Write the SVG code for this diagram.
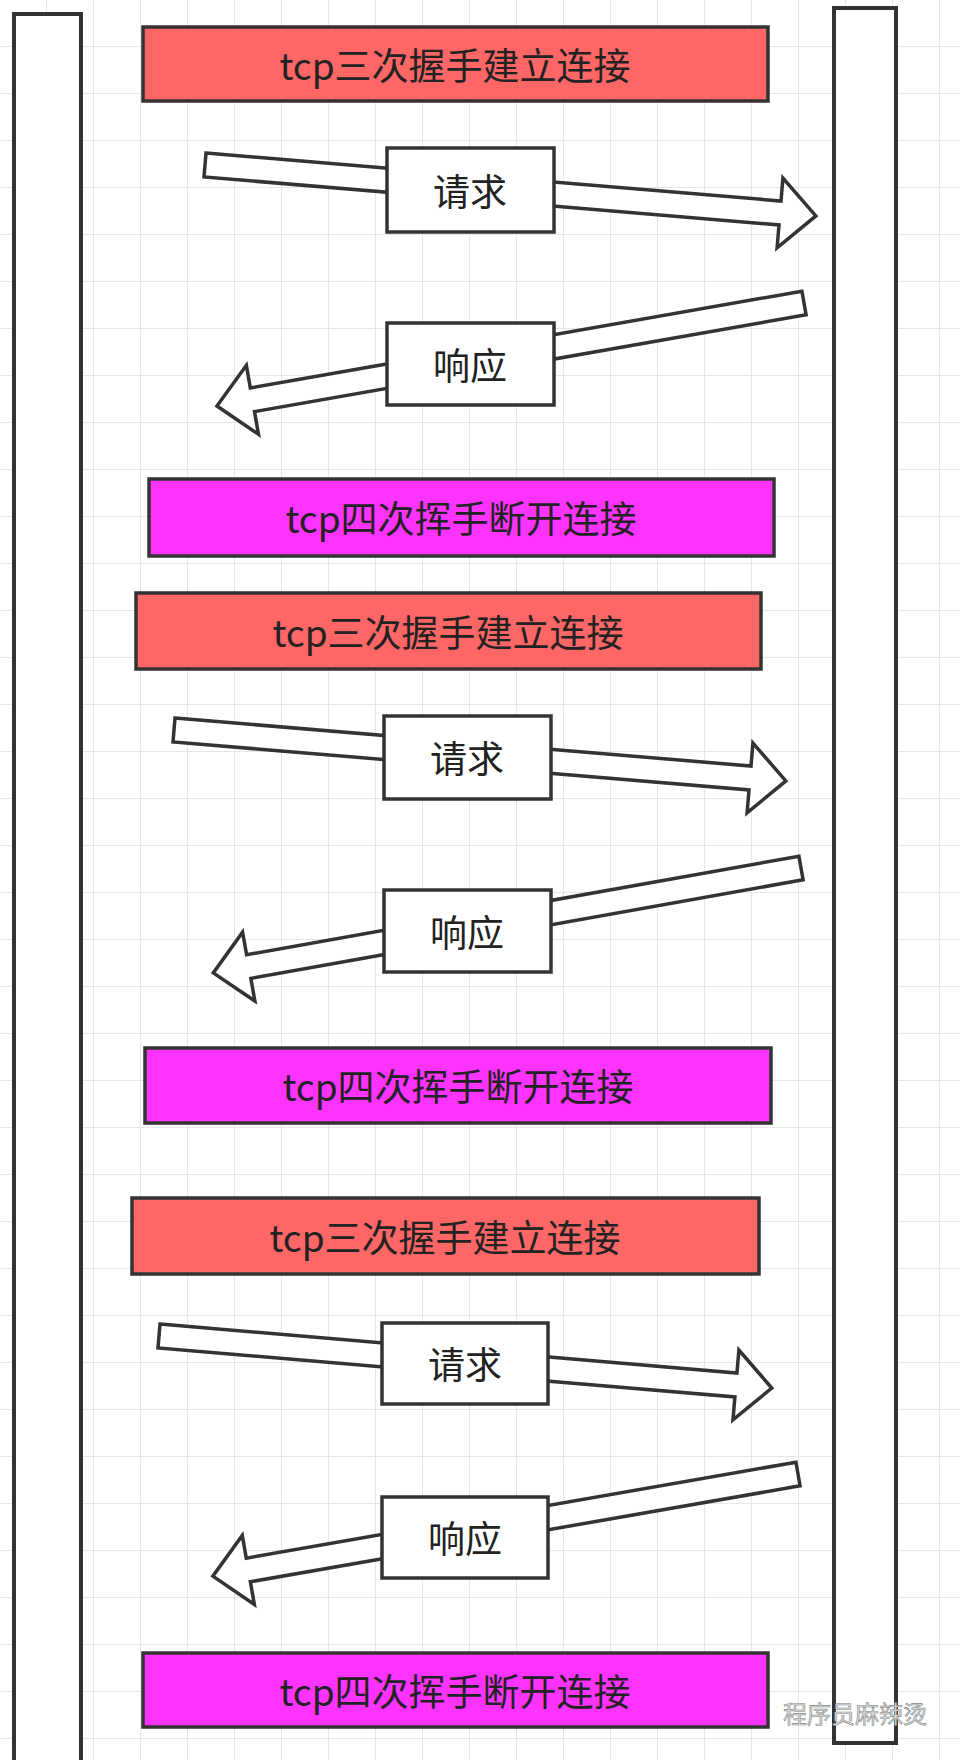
<svg xmlns="http://www.w3.org/2000/svg" width="960" height="1760" viewBox="0 0 960 1760">
<style>
.col{fill:#fff;stroke:#333;stroke-width:4}
.box{stroke:#333;stroke-width:3.5}
.red{fill:#ff6666}.mag{fill:#ff33ff}.wh{fill:#fff}
.arr{fill:#fff;stroke:#333;stroke-width:3.5;stroke-linejoin:miter}
text{font-family:"Noto Sans CJK SC","Liberation Sans",sans-serif;font-size:37px;fill:#222;text-anchor:middle;dominant-baseline:central}
</style>
<defs>
<pattern id="grid" width="47" height="47" patternUnits="userSpaceOnUse">
<path d="M47 0V47M0 47H47" fill="none" stroke="#e6e6e6" stroke-width="2"/>
</pattern>
</defs>
<rect width="960" height="1760" fill="#fff"/>
<rect width="960" height="1760" fill="url(#grid)"/>
<g id="client"><rect class="col" x="14" y="14" width="67" height="1760"/></g>
<g id="server"><rect class="col" x="834" y="8" width="62" height="1735"/></g>
<g id="connectors">
<path class="arr" transform="translate(205,165) rotate(4.77)" d="M0,-12H577V-35L613,0L577,35V12H0Z"/>
<path class="arr" transform="translate(804,303) rotate(170.05)" d="M0,-12H560V-35L596,0L560,35V12H0Z"/>
<path class="arr" transform="translate(174,730) rotate(4.76)" d="M0,-12H578V-35L614,0L578,35V12H0Z"/>
<path class="arr" transform="translate(801,868) rotate(169.88)" d="M0,-12H561V-35L597,0L561,35V12H0Z"/>
<path class="arr" transform="translate(159,1336) rotate(4.85)" d="M0,-12H579V-35L615,0L579,35V12H0Z"/>
<path class="arr" transform="translate(798,1474) rotate(170.1)" d="M0,-12H558V-35L594,0L558,35V12H0Z"/>
</g>
<g id="connect1"><rect class="box red" x="143" y="27" width="625" height="74"/><text x="455" y="64">tcp三次握手建立连接</text></g>
<g id="request1"><rect class="box wh" x="387" y="148" width="167" height="84"/><text x="470" y="190">请求</text></g>
<g id="response1"><rect class="box wh" x="387" y="323" width="167" height="82"/><text x="470" y="364">响应</text></g>
<g id="close1"><rect class="box mag" x="149" y="479" width="625" height="77"/><text x="461" y="517">tcp四次挥手断开连接</text></g>
<g id="connect2"><rect class="box red" x="136" y="593" width="625" height="76"/><text x="448" y="631">tcp三次握手建立连接</text></g>
<g id="request2"><rect class="box wh" x="384" y="716" width="167" height="83"/><text x="467" y="757">请求</text></g>
<g id="response2"><rect class="box wh" x="384" y="890" width="167" height="82"/><text x="467" y="931">响应</text></g>
<g id="close2"><rect class="box mag" x="145" y="1048" width="626" height="75"/><text x="458" y="1085">tcp四次挥手断开连接</text></g>
<g id="connect3"><rect class="box red" x="132" y="1198" width="627" height="76"/><text x="445" y="1236">tcp三次握手建立连接</text></g>
<g id="request3"><rect class="box wh" x="382" y="1323" width="166" height="81"/><text x="465" y="1363">请求</text></g>
<g id="response3"><rect class="box wh" x="382" y="1497" width="166" height="81"/><text x="465" y="1537">响应</text></g>
<g id="close3"><rect class="box mag" x="143" y="1653" width="625" height="74"/><text x="455" y="1690">tcp四次挥手断开连接</text></g>
<text x="855" y="1712" style="font-size:24px;fill:#ddd;stroke:#888;stroke-width:0.6">程序员麻辣烫</text>
</svg>
